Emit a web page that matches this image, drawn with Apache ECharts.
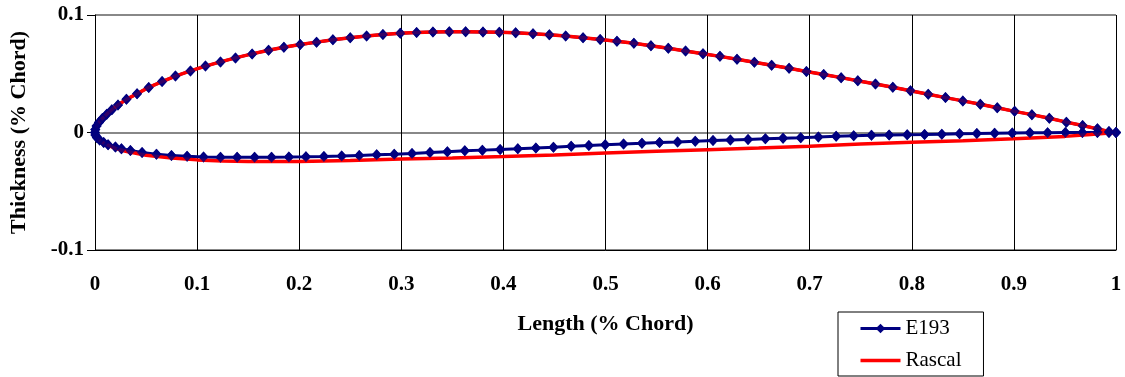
<!DOCTYPE html>
<html>
<head>
<meta charset="utf-8">
<script src="https://cdn.jsdelivr.net/npm/echarts@6/dist/echarts.min.js"></script>
<style>
html,body{margin:0;padding:0;background:#fff;}
#c{width:1125px;height:377px;}
</style>
</head>
<body>
<div id="c"></div>
<script>
// E193 upper surface, trailing edge -> leading edge [x, y]
const e193Upper = [
[1.0,0],[0.9931,0.0008],[0.9818,0.0031],[0.9673,0.0059],[0.9514,0.0088],[0.9347,0.0121],
[0.9176,0.0152],[0.9007,0.0180],[0.8837,0.0210],[0.8671,0.0240],[0.8500,0.0269],[0.8330,0.0297],
[0.8161,0.0326],[0.7987,0.0355],[0.7814,0.0385],[0.7644,0.0413],[0.7471,0.0440],[0.7308,0.0467],
[0.7137,0.0493],[0.6968,0.0519],[0.6798,0.0546],[0.6627,0.0572],[0.6458,0.0598],[0.6288,0.0624],
[0.6121,0.0648],[0.5955,0.0671],[0.5784,0.0694],[0.5615,0.0717],[0.5445,0.0739],[0.5278,0.0759],
[0.5112,0.0776],[0.4948,0.0792],[0.478,0.0807],[0.461,0.0821],[0.445,0.0832],[0.429,0.0841],
[0.412,0.0849],[0.396,0.0853],[0.380,0.0856],[0.363,0.0858],[0.347,0.0858],[0.331,0.0856],
[0.315,0.0852],[0.299,0.0845],[0.282,0.0834],[0.266,0.0821],[0.250,0.0806],[0.233,0.0789],
[0.217,0.0769],[0.201,0.0749],[0.185,0.0725],[0.170,0.0700],[0.1539,0.0669],[0.1376,0.0635],
[0.1229,0.0601],[0.1082,0.0565],[0.0935,0.0524],[0.0788,0.0480],[0.0657,0.0433],[0.0526,0.0384],
[0.0412,0.0330],[0.0308,0.0282],[0.0225,0.0234],[0.0165,0.0194],[0.0115,0.0156],[0.0072,0.0120],
[0.0038,0.0086],[0.0015,0.0055],[0.0003,0.0025],[0,0]
];
// E193 lower surface, leading edge -> trailing edge [x, y]
const e193Lower = [
[0.0004,-0.0022],[0.0018,-0.0042],[0.0045,-0.0064],[0.0085,-0.0086],[0.0128,-0.0105],[0.0200,-0.0124],
[0.0259,-0.0138],[0.0347,-0.0153],[0.0461,-0.0171],[0.0602,-0.0186],[0.0749,-0.0196],[0.0902,-0.0203],
[0.1063,-0.0208],[0.1229,-0.0210],[0.1392,-0.0211],[0.1563,-0.0211],[0.1729,-0.0210],[0.1899,-0.0209],
[0.2066,-0.0207],[0.2242,-0.0204],[0.2416,-0.0200],[0.2588,-0.0195],[0.2759,-0.0190],[0.2931,-0.0185],
[0.3105,-0.0178],[0.3281,-0.0170],[0.3451,-0.0163],[0.3622,-0.0156],[0.3794,-0.0150],[0.3968,-0.0144],
[0.4141,-0.0138],[0.4318,-0.0131],[0.4490,-0.0125],[0.4664,-0.0118],[0.4837,-0.0111],[0.4997,-0.0105],
[0.5177,-0.0098],[0.5357,-0.0092],[0.5529,-0.0086],[0.5706,-0.0080],[0.5879,-0.0074],[0.6053,-0.0069],
[0.6223,-0.0064],[0.6396,-0.0059],[0.6566,-0.0054],[0.6739,-0.0049],[0.6912,-0.0044],[0.7085,-0.0038],
[0.7259,-0.0032],[0.7431,-0.0027],[0.7605,-0.0024],[0.7778,-0.0021],[0.7955,-0.0019],[0.8125,-0.0017],
[0.8294,-0.0014],[0.8468,-0.0011],[0.8637,-0.0009],[0.8811,-0.0006],[0.8984,-0.0004],[0.9157,-0.0003],
[0.9330,-0.0002],[0.9504,-0.0001],[0.9671,0],[0.9818,0],[0.9931,0],[1.0,0]
];
// Rascal lower surface, leading edge -> trailing edge [x, y] (upper surface coincides with E193)
const rascalLower = [
[0.0004,-0.0024],[0.0018,-0.0046],[0.005,-0.0070],[0.01,-0.0097],[0.02,-0.0135],[0.03,-0.0160],
[0.05,-0.0193],[0.075,-0.0218],[0.1,-0.0233],[0.125,-0.0242],[0.15,-0.0246],[0.2,-0.0247],
[0.25,-0.0238],[0.3,-0.0226],[0.35,-0.0216],[0.4,-0.0205],[0.45,-0.0191],[0.5,-0.0175],
[0.55,-0.0160],[0.6,-0.0146],[0.65,-0.0132],[0.7,-0.0117],[0.75,-0.0098],[0.8,-0.0084],
[0.85,-0.0070],[0.9,-0.0053],[0.95,-0.0033],[0.975,-0.0018],[1.0,0]
];
const seriesNames = ['E193', 'Rascal'];
const xTitle = 'Length (% Chord)';
const yTitle = 'Thickness (% Chord)';

const e193 = e193Upper.concat(e193Lower);
const rascal = e193Upper.concat(rascalLower);

const chart = echarts.init(document.getElementById('c'));
const serif = '"Liberation Serif", "Times New Roman", serif';
const NAVY = '#000080', RED = '#ff0000';

chart.setOption({
  animation: false,
  backgroundColor: '#ffffff',
  grid: { left: 95, right: 9, top: 15, bottom: 127, containLabel: false, outerBoundsMode: 'none' },
  legend: {
    data: [
      { name: seriesNames[0], lineStyle: { color: NAVY, width: 3 } },
      { name: seriesNames[1], icon: 'path://M0,0H40V3.5H0Z', itemStyle: { color: RED, borderWidth: 0 } }
    ],
    orient: 'vertical',
    left: 838, top: 312, height: 200,
    padding: [6, 22, 5, 21],
    itemWidth: 40, itemHeight: 12, itemGap: 11,
    borderColor: '#000', borderWidth: 1,
    textStyle: { fontFamily: serif, fontSize: 21, lineHeight: 21, color: '#000' }
  },
  xAxis: {
    type: 'value', min: 0, max: 1, interval: 0.1,
    position: 'bottom',
    axisLine: { onZero: false, lineStyle: { color: '#000', width: 1 } },
    axisTick: { show: false },
    splitLine: { show: true, lineStyle: { color: '#000', width: 1 } },
    axisLabel: { margin: 24, fontFamily: serif, fontWeight: 'bold', fontSize: 21, color: '#000' },
    name: xTitle, nameLocation: 'middle', nameGap: 63,
    nameTextStyle: { fontFamily: serif, fontWeight: 'bold', fontSize: 22, color: '#000' }
  },
  yAxis: {
    type: 'value', min: -0.1, max: 0.1, interval: 0.1,
    axisLine: { show: true, lineStyle: { color: '#000', width: 1 } },
    axisTick: { show: true, inside: false, length: 8, lineStyle: { color: '#000' } },
    splitLine: { show: true, lineStyle: { color: '#888', width: 2 } },
    axisLabel: { margin: 11, fontFamily: serif, fontWeight: 'bold', fontSize: 21, color: '#000' },
    name: yTitle, nameLocation: 'middle', nameGap: 65, nameRotate: 90,
    nameTextStyle: { fontFamily: serif, fontWeight: 'bold', fontSize: 22, color: '#000' }
  },
  series: [
    {
      name: 'E193', type: 'line', data: e193, z: 2,
      symbol: 'diamond', symbolSize: [10, 11], showSymbol: true,
      itemStyle: { color: NAVY },
      lineStyle: { color: NAVY, width: 3 }
    },
    {
      name: 'Rascal', type: 'line', data: rascal, z: 3,
      symbol: 'none', showSymbol: false,
      itemStyle: { color: RED },
      lineStyle: { color: RED, width: 3.5 }
    },
    {
      name: 'E193 markers', type: 'scatter', data: e193, z: 4,
      symbol: 'diamond', symbolSize: [10, 11],
      itemStyle: { color: NAVY }, silent: true
    }
  ]
});
</script>
</body>
</html>
